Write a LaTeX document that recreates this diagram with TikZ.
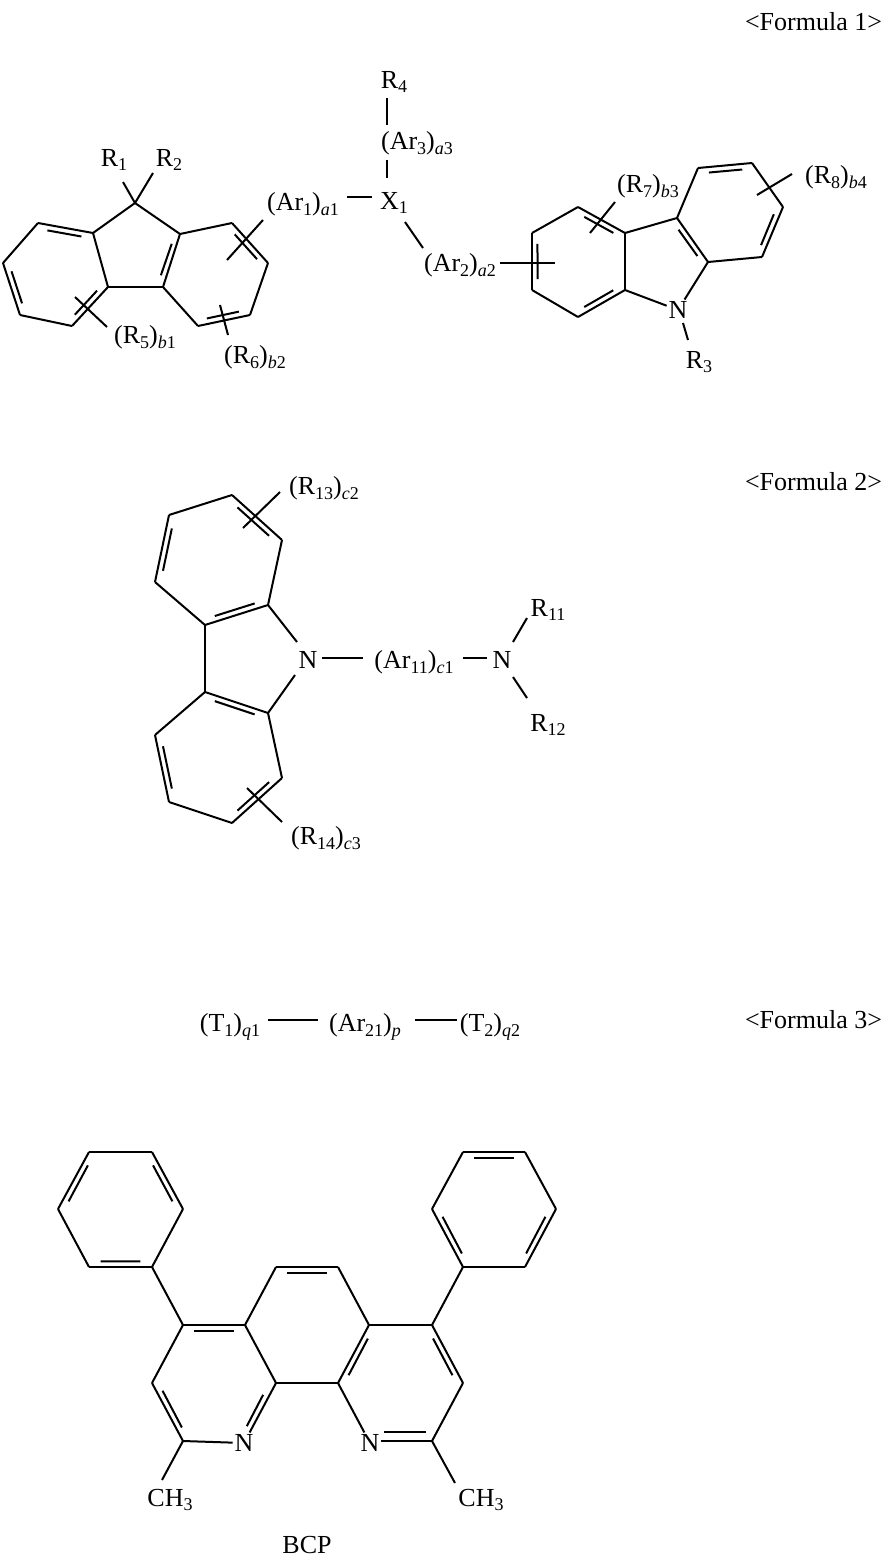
\documentclass[tikz,border=0pt]{standalone}
\usepackage{fontspec}
\setmainfont{Liberation Serif}
\usetikzlibrary{calc}
\newcommand\subs[1]{\raisebox{-0.4ex}{\fontsize{18}{18}\selectfont #1}}
\newcommand\dbl[3]{\draw (#1)--(#2); \draw ($($(#1)!0.15!(#2)$)!6pt!(#3)$) -- ($($(#1)!0.85!(#2)$)!6pt!(#3)$);}
\begin{document}
\begin{tikzpicture}[x=1pt,y=-1pt,line width=2pt,every node/.style={font=\fontsize{26}{28}\selectfont,inner sep=1pt}]
\useasboundingbox (0,0) rectangle (887,1558);
% Formula labels
\node[anchor=east] (f1) at (884,22) {<Formula 1>};
\node[anchor=east] (f2) at (884,482) {<Formula 2>};
\node[anchor=east] (f3) at (884,1020) {<Formula 3>};
% ---------- Formula 1: fluorene
\coordinate (c9) at (135,203);
\coordinate (a1) at (93,233); \coordinate (a2) at (38,223); \coordinate (a3) at (3,263);
\coordinate (a4) at (20,315); \coordinate (a5) at (72,326); \coordinate (a6) at (108,287);
\coordinate (b1) at (180,234); \coordinate (b2) at (232,223); \coordinate (b3) at (268,263);
\coordinate (b4) at (250,315); \coordinate (b5) at (198,326); \coordinate (b6) at (163,287);
\coordinate (lc) at (56,275); \coordinate (rc) at (215,275); \coordinate (fc) at (136,255);
\draw (c9)--(a1); \draw (c9)--(b1); \draw (a1)--(a6); \draw (a6)--(b6);
\dbl{a1}{a2}{lc} \draw (a2)--(a3); \dbl{a3}{a4}{lc} \draw (a4)--(a5); \dbl{a5}{a6}{lc}
\dbl{b6}{b1}{fc} \draw (b1)--(b2); \dbl{b2}{b3}{rc} \draw (b3)--(b4); \dbl{b4}{b5}{rc} \draw (b5)--(b6);
\node (r1) at (114,160) {R\subs{1}};
\node (r2) at (169,160) {R\subs{2}};
\draw (c9)--(123,182); \draw (c9)--(153,173);
\node (r5) at (145,337) {(R\subs{5})\subs{\textit{b}1}};
\draw (75,297)--(107,327);
\node (r6) at (255,357) {(R\subs{6})\subs{\textit{b}2}};
\draw (220,305)--(228,335);
\node (ar1) at (303,204) {(Ar\subs{1})\subs{\textit{a}1}};
\draw (227,260)--(263,220);
\node (x1) at (394,203) {X\subs{1}};
\draw (347,197)--(372,197);
\node (ar3) at (417,143) {(Ar\subs{3})\subs{\textit{a}3}};
\draw (387,178)--(387,160);
\node (r4) at (394,82) {R\subs{4}};
\draw (387,125)--(387,98);
\draw (405,222)--(423,248);
\node (ar2) at (460,265) {(Ar\subs{2})\subs{\textit{a}2}};
\draw (500,263)--(555,263);
% carbazole
\coordinate (d1) at (532,233); \coordinate (d2) at (578,207); \coordinate (d3) at (625,233);
\coordinate (d4) at (625,290); \coordinate (d5) at (578,317); \coordinate (d6) at (532,290);
\coordinate (e1) at (677,218); \coordinate (e2) at (698,168); \coordinate (e3) at (752,163);
\coordinate (e4) at (783,207); \coordinate (e5) at (762,257); \coordinate (e6) at (708,262);
\coordinate (dc) at (578,262); \coordinate (ec) at (730,212); \coordinate (gc) at (660,260);
\node (n1) at (678,310) {N};
\dbl{d1}{d6}{dc} \draw (d1)--(d2); \dbl{d2}{d3}{dc} \draw (d3)--(d4); \dbl{d4}{d5}{dc} \draw (d5)--(d6);
\draw (d3)--(e1); \dbl{e1}{e6}{gc} \draw (e1)--(e2); \dbl{e2}{e3}{ec} \draw (e3)--(e4); \dbl{e4}{e5}{ec} \draw (e5)--(e6);
\draw (d4)--(n1); \draw (e6)--(n1);
\draw (683,323)--(688,340);
\node (r3) at (699,362) {R\subs{3}};
\draw (590,233)--(615,202);
\node (r7) at (648,186) {(R\subs{7})\subs{\textit{b}3}};
\draw (757,195)--(792,174);
\node (r8) at (836,177) {(R\subs{8})\subs{\textit{b}4}};
% ---------- Formula 2
\coordinate (p1) at (169,515); \coordinate (p2) at (232,495); \coordinate (p3) at (282,540);
\coordinate (p4) at (268,605); \coordinate (p5) at (205,625); \coordinate (p6) at (155,582);
\coordinate (q1) at (205,692); \coordinate (q2) at (268,713); \coordinate (q3) at (282,778);
\coordinate (q4) at (232,823); \coordinate (q5) at (169,802); \coordinate (q6) at (155,735);
\coordinate (pc) at (218,560); \coordinate (qc) at (218,757);
\draw (p1)--(p2); \dbl{p2}{p3}{pc} \draw (p3)--(p4); \dbl{p4}{p5}{pc} \draw (p5)--(p6); \dbl{p6}{p1}{pc}
\dbl{q1}{q2}{qc} \draw (q2)--(q3); \dbl{q3}{q4}{qc} \draw (q4)--(q5); \dbl{q5}{q6}{qc} \draw (q6)--(q1);
\draw (p5)--(q1);
\node (n2) at (308,660) {N};
\draw (p4)--(297,642); \draw (q2)--(295,675);
\node (ar11) at (414,662) {(Ar\subs{11})\subs{\textit{c}1}};
\draw (322,658)--(363,658); \node (n3) at (502,660) {N}; \draw (463,658)--(487,658);
\node (r11) at (548,610) {R\subs{11}};
\node (r12) at (548,725) {R\subs{12}};
\draw (513,642)--(527,618); \draw (513,677)--(527,698);
\draw (243,528)--(280,492);
\node (r13) at (324,488) {(R\subs{13})\subs{\textit{c}2}};
\draw (247,788)--(282,822);
\node (r14) at (326,838) {(R\subs{14})\subs{\textit{c}3}};
% ---------- Formula 3
\node (t1) at (230,1027) {(T\subs{1})\subs{\textit{q}1}};
\node (ar21) at (365,1027) {(Ar\subs{21})\subs{\textit{p}}};
\node (t2) at (490,1027) {(T\subs{2})\subs{\textit{q}2}};
\draw (268,1020)--(318,1020); \draw (415,1020)--(457,1020);
% ---------- BCP
\coordinate (l1) at (89,1152); \coordinate (l2) at (152,1152); \coordinate (l3) at (183,1209);
\coordinate (l4) at (152,1267); \coordinate (l5) at (89,1267); \coordinate (l6) at (58,1209);
\coordinate (m1) at (463,1152); \coordinate (m2) at (525,1152); \coordinate (m3) at (556,1209);
\coordinate (m4) at (525,1267); \coordinate (m5) at (463,1267); \coordinate (m6) at (432,1209);
\coordinate (A) at (183,1325); \coordinate (B) at (245,1325); \coordinate (C) at (276,1267);
\coordinate (D) at (338,1267); \coordinate (E) at (369,1325); \coordinate (F) at (432,1325);
\coordinate (G) at (338,1383); \coordinate (H) at (276,1383);
\coordinate (L1) at (152,1383); \coordinate (L2) at (183,1441);
\coordinate (R1) at (463,1383); \coordinate (R2) at (432,1441);
\coordinate (lpc) at (120,1209); \coordinate (rpc) at (494,1209);
\coordinate (lyc) at (214,1383); \coordinate (cc) at (307,1325); \coordinate (ryc) at (400,1383);
\node (N1) at (244,1443) {N}; \node (N2) at (370,1443) {N};
\draw (l1)--(l2); \dbl{l2}{l3}{lpc} \draw (l3)--(l4); \dbl{l4}{l5}{lpc} \draw (l5)--(l6); \dbl{l6}{l1}{lpc}
\dbl{m1}{m2}{rpc} \draw (m2)--(m3); \dbl{m3}{m4}{rpc} \draw (m4)--(m5); \dbl{m5}{m6}{rpc} \draw (m6)--(m1);
\draw (l4)--(A); \draw (m5)--(F);
\dbl{A}{B}{lyc} \draw (B)--(C); \dbl{C}{D}{cc} \draw (D)--(E); \draw (E)--(F);
\draw (B)--(H); \draw (H)--(G); \dbl{E}{G}{ryc}
\draw (A)--(L1); \dbl{L1}{L2}{lyc} \draw (L2)--(N1);
\draw (N1)--(H); \draw ($($(H)!0.22!(N1)$)!6pt!(lyc)$)--($($(H)!0.8!(N1)$)!6pt!(lyc)$);
\draw (G)--(N2); \draw (N2.east |- R2)--(R2); \draw (384,1432)--(426,1432);
\dbl{F}{R1}{ryc} \draw (R1)--(R2);
\node (me1) at (170,1500) {CH\subs{3}};
\node (me2) at (481,1500) {CH\subs{3}};
\draw (L2)--(162,1480); \draw (R2)--(455,1483);
\node (bcp) at (307,1545) {BCP};
\end{tikzpicture}
\end{document}
